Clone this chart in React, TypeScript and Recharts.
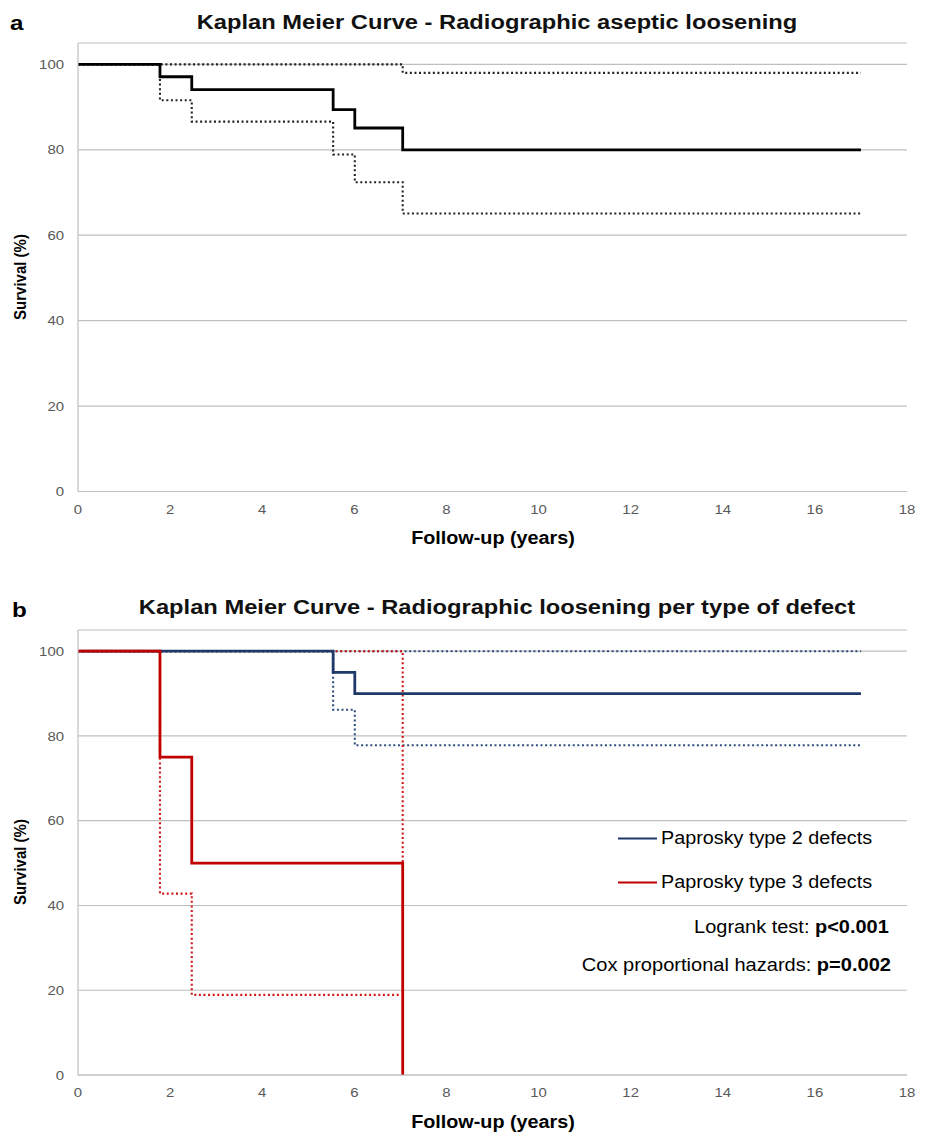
import React from 'react';
import { LineChart, Line, XAxis, YAxis, CartesianGrid } from 'recharts';

// Panel a: overall survival (aseptic loosening)
const aSurvival = [
  { x: 0, y: 100 }, { x: 1.78, y: 97.1 }, { x: 2.47, y: 94.1 }, { x: 5.54, y: 89.4 },
  { x: 6.01, y: 85.1 }, { x: 7.05, y: 80 }, { x: 17, y: 80 },
];
const aUpper = [
  { x: 0, y: 100 }, { x: 7.05, y: 98 }, { x: 17, y: 98 },
];
const aLower = [
  { x: 0, y: 100 }, { x: 1.78, y: 91.6 }, { x: 2.47, y: 86.6 }, { x: 5.54, y: 78.9 },
  { x: 6.01, y: 72.4 }, { x: 7.05, y: 65.1 }, { x: 17, y: 65.1 },
];

// Panel b: per type of defect
const type2Survival = [
  { x: 0, y: 100 }, { x: 5.54, y: 95 }, { x: 6.01, y: 90 }, { x: 17, y: 90 },
];
const type2Upper = [
  { x: 0, y: 100 }, { x: 17, y: 100 },
];
const type2Lower = [
  { x: 0, y: 100 }, { x: 5.54, y: 86.2 }, { x: 6.01, y: 77.8 }, { x: 17, y: 77.8 },
];
const type3Survival = [
  { x: 0, y: 100 }, { x: 1.78, y: 75 }, { x: 2.47, y: 50 }, { x: 7.05, y: 0 },
];
const type3Upper = [
  { x: 0, y: 100 }, { x: 7.05, y: 50 },
];
const type3Lower = [
  { x: 0, y: 100 }, { x: 1.78, y: 42.8 }, { x: 2.47, y: 18.9 }, { x: 7.0, y: 18.9 },
];

const xTicks = [0, 2, 4, 6, 8, 10, 12, 14, 16, 18];
const yTicks = [0, 20, 40, 60, 80, 100];

const titleA = 'Kaplan Meier Curve - Radiographic aseptic loosening';
const titleB = 'Kaplan Meier Curve - Radiographic loosening per type of defect';
const xLabel = 'Follow-up (years)';
const yLabel = 'Survival (%)';
const legendNames = ['Paprosky type 2 defects', 'Paprosky type 3 defects'];

const BLUE = '#1F3A68';
const BLUE_DOT = '#2E4D7E';
const RED = '#C00000';
const RED_DOT = '#D01818';
const GRID = '#BFBFBF';
const FONT = '"Liberation Sans", Arial, sans-serif';
const SX = 1.15;

function XTick(props: any) {
  const { x, y, payload } = props;
  return (
    <text transform={`translate(${x},${y}) scale(${SX},1)`} textAnchor="middle" dy="0.71em"
      fontSize={13} fill="#595959" fontFamily={FONT}>{payload.value}</text>
  );
}
function YTick(props: any) {
  const { x, y, payload } = props;
  return (
    <text transform={`translate(${x},${y}) scale(${SX},1)`} textAnchor="end" dy="0.35em"
      fontSize={13} fill="#595959" fontFamily={FONT}>{payload.value}</text>
  );
}

function Panel({ top, plotHeight, children }: { top: number; plotHeight: number; children: React.ReactNode }) {
  const marginTop = 43;
  const xAxisH = 30;
  const h = marginTop + plotHeight + xAxisH + 10;
  return (
    <div style={{ position: 'absolute', left: 0, top, width: 928, height: h }}>
      <LineChart width={928} height={h} margin={{ top: marginTop, right: 21, left: 48, bottom: 10 }}>
        <CartesianGrid horizontal vertical={false} stroke={GRID} strokeWidth={1.2} />
        <XAxis
          type="number"
          dataKey="x"
          domain={[0, 18]}
          ticks={xTicks}
          interval={0}
          height={xAxisH}
          tickSize={0}
          tickMargin={13}
          tick={<XTick />}
          stroke={GRID}
          strokeWidth={1.2}
          allowDataOverflow
        />
        <YAxis
          type="number"
          dataKey="y"
          domain={[0, 105]}
          ticks={yTicks}
          interval={0}
          width={30}
          tickSize={0}
          tickMargin={14}
          tick={<YTick />}
          stroke={GRID}
          strokeWidth={1.2}
          allowDataOverflow
        />
        {children}
      </LineChart>
    </div>
  );
}

function series(data: { x: number; y: number }[], color: string, dotted: boolean, key: string) {
  return (
    <Line
      key={key}
      data={data}
      dataKey="y"
      type="stepAfter"
      stroke={color}
      strokeWidth={dotted ? 2.1 : 2.8}
      strokeDasharray={dotted ? '2 2.6' : undefined}
      dot={false}
      activeDot={false}
      isAnimationActive={false}
    />
  );
}

const textBase: React.CSSProperties = { position: 'absolute', fontFamily: FONT, color: '#000', whiteSpace: 'nowrap' };

export default function App() {
  return (
    <div style={{ position: 'absolute', left: 0, top: 0, width: 928, height: 1132, background: '#fff', overflow: 'hidden' }}>
      {/* Panel a */}
      <div style={{ ...textBase, left: 10, top: 11, fontSize: 21, fontWeight: 'bold', transform: `scale(${SX},1)`, transformOrigin: 'left top' }}>a</div>
      <div style={{ ...textBase, left: 497, top: 11, transform: 'translateX(-50%) scale(1.185,1)', fontSize: 20, fontWeight: 'bold', color: '#111' }}>{titleA}</div>
      <Panel top={0} plotHeight={448.5}>
        {series(aUpper, '#222', true, 'au')}
        {series(aLower, '#222', true, 'al')}
        {series(aSurvival, '#000', false, 'as')}
      </Panel>
      <div style={{ ...textBase, left: 20, top: 277, transform: 'translate(-50%, -50%) rotate(-90deg) scale(1,1.12)', fontSize: 15, fontWeight: 'bold' }}>{yLabel}</div>
      <div style={{ ...textBase, left: 493, top: 538, transform: 'translate(-50%, -50%) scale(1.13,1)', fontSize: 17.5, fontWeight: 'bold' }}>{xLabel}</div>

      {/* Panel b */}
      <div style={{ ...textBase, left: 12, top: 598, fontSize: 21, fontWeight: 'bold', transform: `scale(${SX},1)`, transformOrigin: 'left top' }}>b</div>
      <div style={{ ...textBase, left: 497, top: 596, transform: 'translateX(-50%) scale(1.185,1)', fontSize: 20, fontWeight: 'bold', color: '#111' }}>{titleB}</div>
      <Panel top={587} plotHeight={445}>
        {series(type2Upper, BLUE_DOT, true, 'bu')}
        {series(type2Lower, BLUE_DOT, true, 'bl')}
        {series(type3Upper, RED_DOT, true, 'ru')}
        {series(type3Lower, RED_DOT, true, 'rl')}
        {series(type2Survival, BLUE, false, 'bs')}
        {series(type3Survival, RED, false, 'rs')}
      </Panel>
      <div style={{ ...textBase, left: 20, top: 862, transform: 'translate(-50%, -50%) rotate(-90deg) scale(1,1.12)', fontSize: 15, fontWeight: 'bold' }}>{yLabel}</div>
      <div style={{ ...textBase, left: 493, top: 1122, transform: 'translate(-50%, -50%) scale(1.13,1)', fontSize: 17.5, fontWeight: 'bold' }}>{xLabel}</div>

      {/* Legend */}
      {[BLUE, RED].map((c, i) => (
        <div key={i} style={{ ...textBase, left: 618, top: 838 + i * 44, transform: 'translateY(-50%)', display: 'flex', alignItems: 'center' }}>
          <span style={{ display: 'inline-block', width: 39, height: 2, background: c, marginRight: 4 }} />
          <span style={{ fontSize: 17.5, display: 'inline-block', transform: 'scale(1.13,1)', transformOrigin: 'left center' }}>{legendNames[i]}</span>
        </div>
      ))}
      <div style={{ ...textBase, right: 928 - 889, top: 927, transform: 'translateY(-50%) scale(1.14,1)', transformOrigin: 'right center', fontSize: 17.5 }}>
        Logrank test: <b>p&lt;0.001</b>
      </div>
      <div style={{ ...textBase, right: 928 - 891, top: 965, transform: 'translateY(-50%) scale(1.145,1)', transformOrigin: 'right center', fontSize: 17.5 }}>
        Cox proportional hazards: <b>p=0.002</b>
      </div>
    </div>
  );
}
